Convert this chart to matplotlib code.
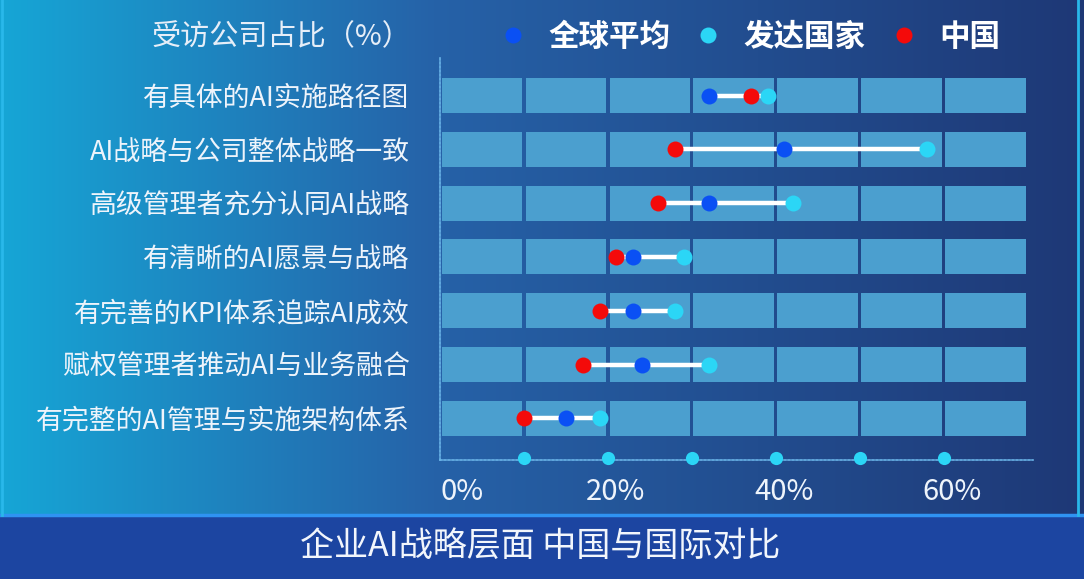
import numpy as np
import matplotlib.pyplot as plt
import matplotlib.transforms as mtransforms
from matplotlib.patches import Rectangle

plt.rcParams['font.family'] = ['Noto Sans CJK SC', 'DejaVu Sans']

# ---------------- data (share of companies, %) ----------------
items = [
    '有具体的AI实施路径图',
    'AI战略与公司整体战略一致',
    '高级管理者充分认同AI战略',
    '有清晰的AI愿景与战略',
    '有完善的KPI体系追踪AI成效',
    '赋权管理者推动AI与业务融合',
    '有完整的AI管理与实施架构体系',
]
global_avg = [32, 41, 32, 23, 23, 24, 15]
developed  = [39, 58, 42, 29, 28, 32, 19]
china      = [37, 28, 26, 21, 19, 17, 10]

series_names = ['全球平均', '发达国家', '中国']
xticks = [0, 20, 40, 60]
xticklabels = ['0%', '20%', '40%', '60%']
grid_steps = [10, 20, 30, 40, 50, 60]

W, H = 1084, 579
fig = plt.figure(figsize=(W / 100, H / 100), dpi=100)

# background gradient
bg = fig.add_axes([0, 0, 1, 1])
bg.set_xlim(0, W)
bg.set_ylim(H, 0)
bg.axis('off')
c0 = np.array([22, 166, 214]) / 255
c1 = np.array([38, 98, 168]) / 255
c2 = np.array([30, 56, 118]) / 255
t = np.linspace(0, 1, 400)
grad = np.where(t[:, None] < 0.4,
                c0 + (c1 - c0) * (t[:, None] / 0.4),
                c1 + (c2 - c1) * ((t[:, None] - 0.4) / 0.6))
bg.imshow(grad[None, :, :], extent=[0, W, 515, 0], aspect='auto')
bg.add_patch(Rectangle((0, 515), W, H - 515, color='#1c45a1'))
bg.plot([0, W], [515, 515], color='#2f93f2', lw=2.5)
bg.plot([1.5, 1.5], [0, 515], color='#29b8ea', lw=2)
bg.plot([1078, 1078], [0, 515], color='#29b8ea', lw=2)

# main plot area
ax = fig.add_axes([440 / W, (H - 460) / H, (1033 - 440) / W, (460 - 57) / H])
ax.patch.set_alpha(0)
y = np.arange(len(items))
ax.set_xlim(0, 70.6)
ax.set_ylim(6.775, -0.716)

cell_color = '#4b9fcf'
for j in range(7):
    ax.barh(y, 9.64, left=j * 10 + 0.18, height=0.65, color=cell_color, zorder=1)

for i in range(len(items)):
    vals = [global_avg[i], developed[i], china[i]]
    ax.plot([min(vals), max(vals)], [y[i], y[i]], color='white', lw=3.2, zorder=2,
            solid_capstyle='butt')

ax.plot(developed, y, 'o', color='#2bd6f6', ms=11.5, mec='none', zorder=3, label='发达国家')
ax.plot(china, y, 'o', color='#f40a0a', ms=11.5, mec='none', zorder=4, label='中国')
ax.plot(global_avg, y, 'o', color='#0a50f4', ms=11.5, mec='none', zorder=5, label='全球平均')

# axis dots on the bottom
ax.plot(grid_steps, [6.74] * len(grid_steps), 'o', color='#2bd6f6', ms=9.5, mec='none',
        clip_on=False, zorder=6)

for s in ['top', 'right']:
    ax.spines[s].set_visible(False)
for s in ['left', 'bottom']:
    ax.spines[s].set_color('#6ab4e8')
    ax.spines[s].set_linestyle((0, (1.2, 1.2)))
    ax.spines[s].set_linewidth(1.2)

ax.set_yticks(y)
ax.set_yticklabels(items, fontsize=19.4, color='#eef4fb')
ax.tick_params(axis='y', length=0, pad=22)
ax.set_xticks(xticks)
ax.set_xticklabels(xticklabels, fontsize=21, color='#eef4fb')
ax.tick_params(axis='x', length=0, pad=12)
labs = ax.get_xticklabels()
labs[0].set_ha('left')
shift = mtransforms.ScaledTranslation(8 / 100, 0, fig.dpi_scale_trans)
for lab in labs[1:]:
    lab.set_transform(lab.get_transform() + shift)

# legend
h, l = ax.get_legend_handles_labels()
order = [l.index(n) for n in series_names]
leg = fig.legend([h[k] for k in order], [l[k] for k in order], ncol=3,
                 loc='center left', bbox_to_anchor=(504 / W, 1 - 37 / H),
                 frameon=False, borderpad=0, borderaxespad=0, handlelength=0.6,
                 handletextpad=0.85, columnspacing=0.95, numpoints=1,
                 prop={'size': 22, 'weight': 'bold'})
for txt in leg.get_texts():
    txt.set_color('white')

fig.text(411 / W, 1 - 37 / H, '受访公司占比（%）', ha='right', va='center',
         fontsize=21, color='#e6eef8')
fig.text(540 / W, 1 - 546 / H, '企业AI战略层面 中国与国际对比', ha='center', va='center',
         fontsize=24.5, color='#f2f6fc')

fig.savefig('out.png', dpi=100)
